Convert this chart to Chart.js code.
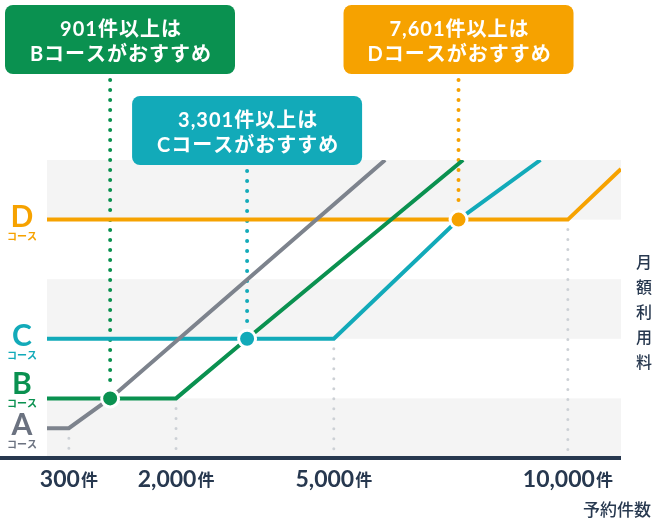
<!DOCTYPE html>
<html lang="ja">
<head>
<meta charset="utf-8">
<title>予約件数と月額利用料</title>
<script src="https://cdn.jsdelivr.net/npm/chart.js@4.4.1/dist/chart.umd.min.js"></script>
<style>
  html, body { margin: 0; padding: 0; background: #fff; }
  #wrap { width: 654px; height: 522px; }
</style>
</head>
<body>
<div id="wrap"><canvas id="chart" width="654" height="522"></canvas></div>
<script>
// --- DATA ---
const courses = ['A', 'B', 'C', 'D'];
const baseFee = [1, 2, 4, 8];                 // 月額利用料（相対値）
const xTicks = [300, 2000, 5000, 10000];      // 予約件数の目盛り
const xMin = 40;
const xMax = 11200;

// 各コースの月額利用料の折れ線（予約件数, 月額）
const seriesA = [[40, 1], [300, 1], [901, 2], [6050, 10]];
const seriesB = [[40, 2], [2000, 2], [3301, 4], [7700, 10]];
const seriesC = [[40, 4], [5000, 4], [7601, 8], [9390, 10]];
const seriesD = [[40, 8], [10000, 8], [11200, 9.7]];

// おすすめの切り替え点
const switchCount = [901, 3301, 7601];
const switchFee = [2, 4, 8];
const switchCourse = ['B', 'C', 'D'];

// --- STYLE ---
const courseColors = { A: '#7d838d', B: '#0a9150', C: '#12aab9', D: '#f6a200' };
const labelColors = { A: '#6b7280', B: '#0a9150', C: '#12aab9', D: '#f6a200' };
const navy = '#27384f';
const cjk = "'Noto Sans CJK JP', 'Noto Sans', sans-serif";

// 目盛り間隔が手描き風に詰まっている横軸（べき乗スケール）
class PowScale extends Chart.LinearScale {
    _t(v) { return Math.pow(Math.max(v, 0), this.options.exponent); }
    getPixelForValue(value) {
        const t0 = this._t(this.min), t1 = this._t(this.max);
        return this.getPixelForDecimal((this._t(value) - t0) / (t1 - t0));
    }
    getValueForPixel(pixel) {
        const t0 = this._t(this.min), t1 = this._t(this.max);
        const t = t0 + this.getDecimalForPixel(pixel) * (t1 - t0);
        return Math.pow(t, 1 / this.options.exponent);
    }
}
PowScale.id = 'pow';
PowScale.defaults = Object.assign({}, Chart.LinearScale.defaults, { exponent: 0.85 });
Chart.register(PowScale);

function boxGeom(chart, i) {
    const x = chart.scales.x.getPixelForValue(switchCount[i]);
    const w = 230, h = 69;
    const left = Math.min(Math.max(x - w / 2, 5), chart.width - 5 - w);
    const top = i % 2 === 0 ? 5 : 96;
    return { x, left, top, w, h };
}

const decorPlugin = {
    id: 'decor',
    beforeDatasetsDraw(chart) {
        const { ctx, chartArea: a, scales: { x, y } } = chart;
        ctx.save();
        // 背景の帯
        ctx.fillStyle = '#f4f4f4';
        for (let v = 0; v < 10; v += 4) {
            const top = y.getPixelForValue(v + 2), bottom = y.getPixelForValue(v);
            ctx.fillRect(a.left, top, a.right - a.left, bottom - top);
        }
        // 目盛りの点線
        ctx.lineCap = 'round';
        ctx.setLineDash([0, 10]);
        ctx.strokeStyle = '#cdd1d6';
        ctx.lineWidth = 3;
        xTicks.forEach((t, i) => {
            const px = x.getPixelForValue(t);
            ctx.beginPath();
            ctx.moveTo(px, y.getPixelForValue(baseFee[i]) + 10);
            ctx.lineTo(px, a.bottom - 3);
            ctx.stroke();
        });
        // 吹き出しからの点線
        ctx.lineWidth = 4;
        switchCount.forEach((n, i) => {
            const g = boxGeom(chart, i);
            ctx.strokeStyle = courseColors[switchCourse[i]];
            ctx.beginPath();
            ctx.moveTo(g.x, g.top + g.h + 6);
            ctx.lineTo(g.x, y.getPixelForValue(switchFee[i]) - 12);
            ctx.stroke();
        });
        ctx.restore();
    },
    afterDatasetsDraw(chart) {
        const { ctx, chartArea: a, scales: { x, y } } = chart;
        ctx.save();
        // 横軸
        ctx.fillStyle = navy;
        ctx.fillRect(0, a.bottom - 2, a.right, 4);

        // 横軸ラベル
        ctx.textBaseline = 'alphabetic';
        xTicks.forEach(t => {
            const px = x.getPixelForValue(t);
            const num = t.toLocaleString('en-US');
            ctx.font = 'bold 23px Lato, sans-serif';
            const w1 = ctx.measureText(num).width;
            ctx.font = 'bold 17px ' + cjk;
            const w2 = ctx.measureText('件').width;
            const start = px - (w1 + w2 + 1) / 2;
            ctx.fillStyle = navy;
            ctx.textAlign = 'left';
            ctx.font = 'bold 23px Lato, sans-serif';
            ctx.fillText(num, start, a.bottom + 29);
            ctx.font = 'bold 17px ' + cjk;
            ctx.fillText('件', start + w1 + 1, a.bottom + 28);
        });

        // 縦軸ラベル（コース）
        ctx.textAlign = 'center';
        let prev = Infinity;
        courses.forEach((c, i) => {
            const cy = Math.min(y.getPixelForValue(baseFee[i]) - 3, prev - 41);
            prev = cy;
            ctx.fillStyle = labelColors[c];
            ctx.font = 'bold 30px Lato, sans-serif';
            ctx.fillText(c, 22, cy + 10);
            ctx.font = 'bold 10px ' + cjk;
            ctx.fillText('コース', 22, cy + 23);
        });

        // 軸タイトル
        ctx.fillStyle = navy;
        ctx.font = '500 16px ' + cjk;
        ctx.textBaseline = 'middle';
        '月額利用料'.split('').forEach((ch, i) => ctx.fillText(ch, 644, 262 + i * 25));
        ctx.textAlign = 'right';
        ctx.font = '500 17px ' + cjk;
        ctx.fillText('予約件数', 651, 510);

        // 吹き出し
        switchCount.forEach((n, i) => {
            const g = boxGeom(chart, i);
            ctx.fillStyle = courseColors[switchCourse[i]];
            ctx.beginPath();
            ctx.roundRect(g.left, g.top, g.w, g.h, 8);
            ctx.fill();
            ctx.fillStyle = '#fff';
            ctx.textAlign = 'center';
            ctx.textBaseline = 'middle';
            ctx.font = "bold 20px Lato, 'Noto Sans CJK JP', sans-serif";
            ctx.letterSpacing = '1px';
            const cx = g.left + g.w / 2 + 1;
            ctx.fillText(n.toLocaleString('en-US') + '件以上は', cx, g.top + 25);
            ctx.fillText(switchCourse[i] + 'コースがおすすめ', cx, g.top + 50);
            ctx.letterSpacing = '0px';
        });
        ctx.restore();
    }
};

const toXY = s => s.map(([x, y]) => ({ x, y }));
const lineSets = [seriesA, seriesB, seriesC, seriesD].map((s, i) => ({
    label: courses[i] + 'コース',
    data: toXY(s),
    showLine: true,
    borderColor: courseColors[courses[i]],
    borderWidth: 4,
    pointRadius: 0,
    order: 1
}));

const dotSet = {
    label: 'おすすめ',
    data: switchCount.map((n, i) => ({ x: n, y: switchFee[i] })),
    showLine: false,
    pointRadius: 8.5,
    pointBorderWidth: 3,
    pointBorderColor: '#fff',
    pointBackgroundColor: switchCourse.map(c => courseColors[c]),
    order: 0
};

new Chart(document.getElementById('chart'), {
    type: 'scatter',
    data: { datasets: [dotSet, ...lineSets] },
    options: {
        responsive: false,
        animation: false,
        layout: { padding: { left: 47, right: 33, top: 160, bottom: 64 } },
        plugins: { legend: { display: false }, tooltip: { enabled: false } },
        scales: {
            x: { type: 'pow', min: xMin, max: xMax, display: false },
            y: { type: 'linear', min: 0, max: 10, display: false }
        }
    },
    plugins: [decorPlugin]
});
</script>
</body>
</html>
